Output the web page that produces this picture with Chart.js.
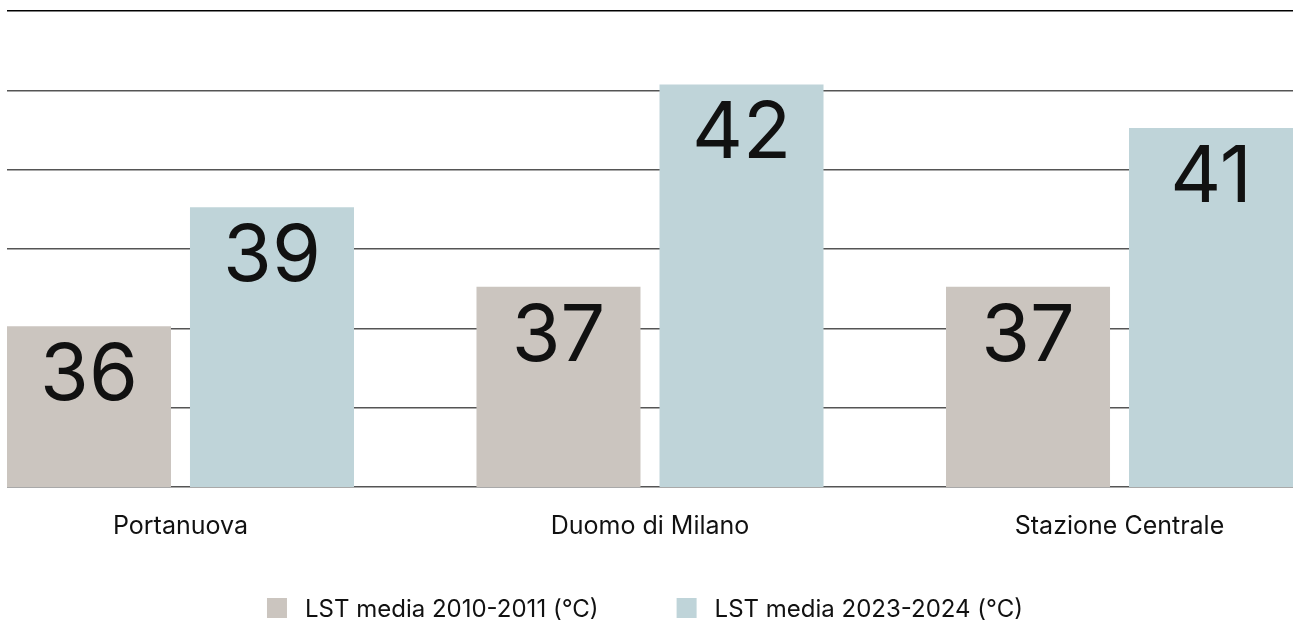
<!DOCTYPE html>
<html lang="it">
<head>
<meta charset="utf-8">
<title>LST media</title>
<script src="https://cdn.jsdelivr.net/npm/chart.js@4.4.1/dist/chart.umd.min.js"></script>
<style>
  html, body { margin: 0; padding: 0; background: #ffffff; }
  #wrap { position: relative; width: 1298px; height: 626px; }
</style>
</head>
<body>
<div id="wrap"><canvas id="chart"></canvas></div>
<script>
// --- dati ---
const categories = ['Portanuova', 'Duomo di Milano', 'Stazione Centrale'];
const seriesLabels = ['LST media 2010-2011 (°C)', 'LST media 2023-2024 (°C)'];
const lst2010 = [36.05, 37.05, 37.05];
const lst2023 = [39.05, 42.15, 41.05];
const yTicks = [32, 34, 36, 38, 40, 42, 44];

const COLORS = {
  old: '#cbc5bf',
  recent: '#bfd4d9',
  text: '#111111',
  grid: '#555555',
  top: '#000000',
};
const FONT = 'Inter, "Noto Sans", sans-serif';

// valori grandi dentro le barre
const valueLabels = {
  id: 'valueLabels',
  afterDatasetsDraw(chart) {
    const { ctx } = chart;
    ctx.save();
    ctx.font = `400 79px ${FONT}`;
    ctx.fillStyle = COLORS.text;
    ctx.textAlign = 'center';
    ctx.textBaseline = 'alphabetic';
    chart.data.datasets.forEach((ds, di) => {
      chart.getDatasetMeta(di).data.forEach((bar, i) => {
        ctx.fillText(String(Math.round(ds.data[i].y)), bar.x, bar.y + 74);
      });
    });
    ctx.restore();
  },
};

// legenda in basso (quadrato + testo)
const bottomLegend = {
  id: 'bottomLegend',
  afterDraw(chart) {
    const { ctx } = chart;
    const box = 20, gap = 18, itemGap = 78;
    ctx.save();
    ctx.font = `400 24px ${FONT}`;
    const items = chart.data.datasets.map(ds => ({
      text: ds.label,
      color: ds.backgroundColor,
      w: ctx.measureText(ds.label).width,
    }));
    const total = items.reduce((s, it) => s + box + gap + it.w, 0) + itemGap * (items.length - 1);
    let x = chart.width / 2 - 4 - total / 2;
    items.forEach(it => {
      ctx.fillStyle = it.color;
      ctx.fillRect(x, 598, box, box);
      ctx.fillStyle = COLORS.text;
      ctx.textAlign = 'left';
      ctx.textBaseline = 'alphabetic';
      ctx.fillText(it.text, x + box + gap, 616.5);
      x += box + gap + it.w + itemGap;
    });
    ctx.restore();
  },
};

new Chart(document.getElementById('chart'), {
  type: 'bar',
  data: {
    datasets: [
      {
        label: seriesLabels[0],
        data: categories.map((c, i) => ({ x: i, y: lst2010[i] })),
        backgroundColor: COLORS.old,
        categoryPercentage: 0.7796,
        barPercentage: 0.8962,
      },
      {
        label: seriesLabels[1],
        data: categories.map((c, i) => ({ x: i, y: lst2023[i] })),
        backgroundColor: COLORS.recent,
        categoryPercentage: 0.7796,
        barPercentage: 0.8962,
      },
    ],
  },
  options: {
    responsive: true,
    maintainAspectRatio: false,
    animation: false,
    layout: { padding: { left: 7, right: 5, top: 11, bottom: 69 } },
    plugins: {
      legend: { display: false },
      tooltip: { enabled: false },
    },
    scales: {
      x: {
        type: 'linear',
        offset: false,
        min: -0.3695,
        max: 2.3695,
        afterBuildTicks: (scale) => { scale.ticks = categories.map((c, i) => ({ value: i })); },
        grid: { display: false },
        border: { display: false },
        ticks: {
          autoSkip: false,
          maxRotation: 0,
          padding: 16,
          color: COLORS.text,
          font: { family: FONT, size: 25 },
          callback: (v) => categories[v] ?? '',
        },
      },
      y: {
        min: 32,
        max: 44,
        afterBuildTicks: (scale) => { scale.ticks = yTicks.map(v => ({ value: v })); },
        border: { display: false },
        grid: {
          drawTicks: false,
          lineWidth: 1.5,
          color: (c) => (c.tick && c.tick.value === 44 ? COLORS.top : COLORS.grid),
        },
        ticks: { display: false },
      },
    },
  },
  plugins: [valueLabels, bottomLegend],
});
</script>
</body>
</html>
